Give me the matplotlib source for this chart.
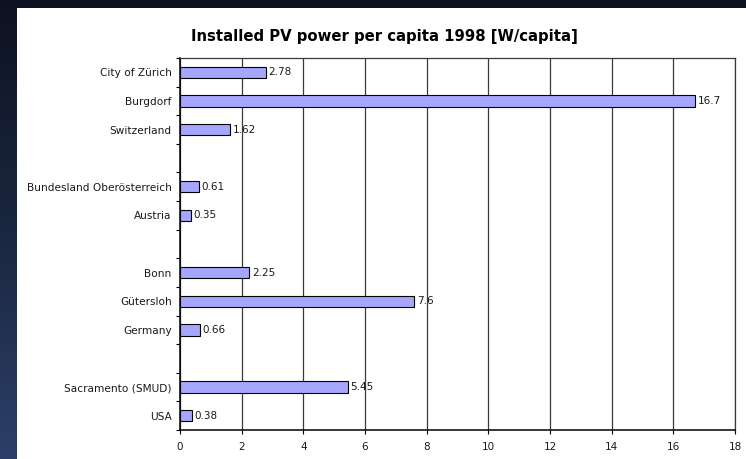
import matplotlib
matplotlib.use('Agg')
import matplotlib.pyplot as plt
from matplotlib.patches import Rectangle
from matplotlib.colors import LinearSegmentedColormap
import numpy as np

# data, top to bottom ('' = empty spacer slot)
categories = ['City of Zürich', 'Burgdorf', 'Switzerland', '',
              'Bundesland Oberösterreich', 'Austria', '',
              'Bonn', 'Gütersloh', 'Germany', '',
              'Sacramento (SMUD)', 'USA']
values = [2.78, 16.7, 1.62, None,
          0.61, 0.35, None,
          2.25, 7.6, 0.66, None,
          5.45, 0.38]
value_labels = ['2.78', '16.7', '1.62', '',
                '0.61', '0.35', '',
                '2.25', '7.6', '0.66', '',
                '5.45', '0.38']
x_ticks = [0, 2, 4, 6, 8, 10, 12, 14, 16, 18]

W, H = 746, 459
fig = plt.figure(figsize=(W / 100, H / 100), dpi=100)

# dark background with a vertical gradient
bg = fig.add_axes([0, 0, 1, 1], zorder=-10)
grad = np.linspace(0, 1, 256).reshape(-1, 1)
cmap = LinearSegmentedColormap.from_list('bg', ['#0d1220', '#1b2740', '#2b3f68'])
bg.imshow(grad, aspect='auto', cmap=cmap, extent=[0, 1, 0, 1], origin='upper')
bg.add_patch(Rectangle((17 / W, 0), 1, 1 - 8 / H, facecolor='white', edgecolor='none'))
bg.set_xlim(0, 1)
bg.set_ylim(0, 1)
bg.axis('off')

ax = fig.add_axes([180 / W, 29 / H, 555 / W, 372 / H])
ax.set_facecolor('white')

y = np.arange(len(categories))
vals = np.array([np.nan if v is None else v for v in values])
ax.barh(y, vals, height=0.4, color='#a6a6ff', edgecolor='black', linewidth=0.8, zorder=3)

for yi, v, lab in zip(y, vals, value_labels):
    if lab:
        ax.text(v + 0.08, yi, lab, va='center', ha='left', fontsize=7.5,
                color='#1a1a1a', zorder=4)

ax.set_xlim(0, 18)
ax.set_ylim(len(categories) - 0.5, -0.5)
ax.set_xticks(x_ticks)
ax.set_xticklabels([str(t) for t in x_ticks], fontsize=7.5, color='#1a1a1a')
ax.set_yticks(y)
ax.set_yticklabels(categories, fontsize=7.6, color='#1a1a1a')
ax.set_yticks(np.arange(len(categories) + 1) - 0.5, minor=True)
ax.tick_params(axis='y', which='major', length=0, pad=6)
ax.tick_params(axis='y', which='minor', length=3, direction='out', width=0.8)
ax.tick_params(axis='x', which='major', length=3, direction='out', width=0.8, pad=6)

ax.grid(axis='x', color='#3a3a3a', linewidth=0.9, zorder=0)
ax.set_axisbelow(True)
for side in ['left', 'bottom']:
    ax.spines[side].set_linewidth(1.1)
    ax.spines[side].set_color('black')
for side in ['top', 'right']:
    ax.spines[side].set_linewidth(0.9)
    ax.spines[side].set_color('#3a3a3a')

fig.text(384 / W, 1 - 36 / H, 'Installed PV power per capita 1998 [W/capita]',
         ha='center', va='center', fontsize=10.7, fontweight='bold')

fig.savefig('out.png', dpi=100)
